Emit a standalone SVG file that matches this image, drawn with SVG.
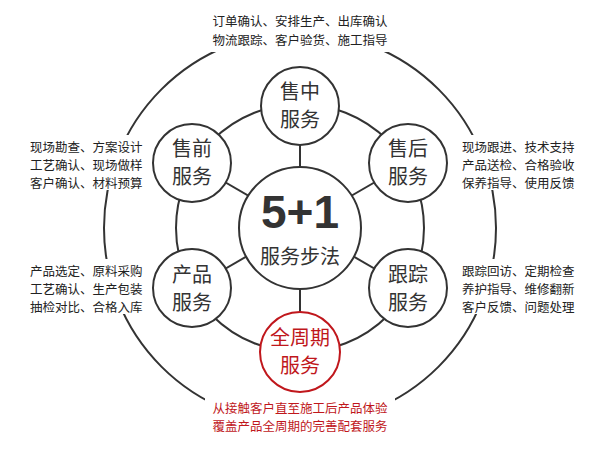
<svg xmlns="http://www.w3.org/2000/svg" width="600" height="450" viewBox="0 0 600 450">
<style>
.c{fill:#fff;stroke:#333;stroke-width:2}
.l{stroke:#333;stroke-width:2;fill:none}
.n{font-family:"Noto Sans CJK SC",sans-serif;font-size:20px;fill:#333;text-anchor:middle}
.t{font-family:"Noto Sans CJK SC",sans-serif;font-size:12.5px;fill:#222}
.bg{fill:#fff}
</style>
<rect width="600" height="450" fill="#fff"/>
<g id="connectors">
<circle class="l" cx="300" cy="228" r="196"/>
<circle class="l" cx="300" cy="228" r="124"/>
<line class="l" x1="300" y1="106" x2="300" y2="350"/>
<line class="l" x1="192" y1="163" x2="408" y2="288"/>
<line class="l" x1="408" y1="163" x2="192" y2="288"/>
</g>
<g id="labels">
<rect class="bg" x="205" y="8" width="190" height="44"/>
<text class="t" x="300" y="26" text-anchor="middle">订单确认、安排生产、出库确认</text>
<text class="t" x="300" y="45" text-anchor="middle">物流跟踪、客户验货、施工指导</text>
<rect class="bg" x="25" y="135" width="125" height="55"/>
<text class="t" x="30" y="152">现场勘查、方案设计</text>
<text class="t" x="30" y="170">工艺确认、现场做样</text>
<text class="t" x="30" y="188">客户确认、材料预算</text>
<rect class="bg" x="458" y="135" width="125" height="55"/>
<text class="t" x="462" y="152">现场跟进、技术支持</text>
<text class="t" x="462" y="170">产品送检、合格验收</text>
<text class="t" x="462" y="188">保养指导、使用反馈</text>
<rect class="bg" x="25" y="259" width="125" height="55"/>
<text class="t" x="30" y="276">产品选定、原料采购</text>
<text class="t" x="30" y="294">工艺确认、生产包装</text>
<text class="t" x="30" y="312">抽检对比、合格入库</text>
<rect class="bg" x="458" y="259" width="125" height="55"/>
<text class="t" x="462" y="276">跟踪回访、定期检查</text>
<text class="t" x="462" y="294">养护指导、维修翻新</text>
<text class="t" x="462" y="312">客户反馈、问题处理</text>
<rect class="bg" x="205" y="398" width="190" height="40"/>
<text class="t" x="300" y="413" text-anchor="middle" style="fill:#c0171c">从接触客户直至施工后产品体验</text>
<text class="t" x="300" y="431" text-anchor="middle" style="fill:#c0171c">覆盖产品全周期的完善配套服务</text>
</g>
<g id="center">
<circle class="c" cx="300" cy="228" r="61"/>
<text x="300" y="228" text-anchor="middle" font-family="Liberation Sans Narrow,Liberation Sans,sans-serif" font-weight="bold" font-size="46" fill="#333">5+1</text>
<text class="n" x="300" y="264">服务步法</text>
</g>
<g id="n-top"><circle class="c" cx="300" cy="106" r="39"/><text class="n" x="300" y="99">售中</text><text class="n" x="300" y="127">服务</text></g>
<g id="n-ul"><circle class="c" cx="192" cy="163" r="39"/><text class="n" x="192" y="156">售前</text><text class="n" x="192" y="184">服务</text></g>
<g id="n-ur"><circle class="c" cx="408" cy="163" r="39"/><text class="n" x="408" y="156">售后</text><text class="n" x="408" y="184">服务</text></g>
<g id="n-ll"><circle class="c" cx="192" cy="288" r="39"/><text class="n" x="192" y="282">产品</text><text class="n" x="192" y="310">服务</text></g>
<g id="n-lr"><circle class="c" cx="408" cy="288" r="39"/><text class="n" x="408" y="282">跟踪</text><text class="n" x="408" y="310">服务</text></g>
<g id="n-bottom"><circle class="c" cx="300" cy="352" r="40" style="stroke:#c0171c"/><text class="n" x="300" y="345" style="fill:#c0171c">全周期</text><text class="n" x="300" y="373" style="fill:#c0171c">服务</text></g>
</svg>
